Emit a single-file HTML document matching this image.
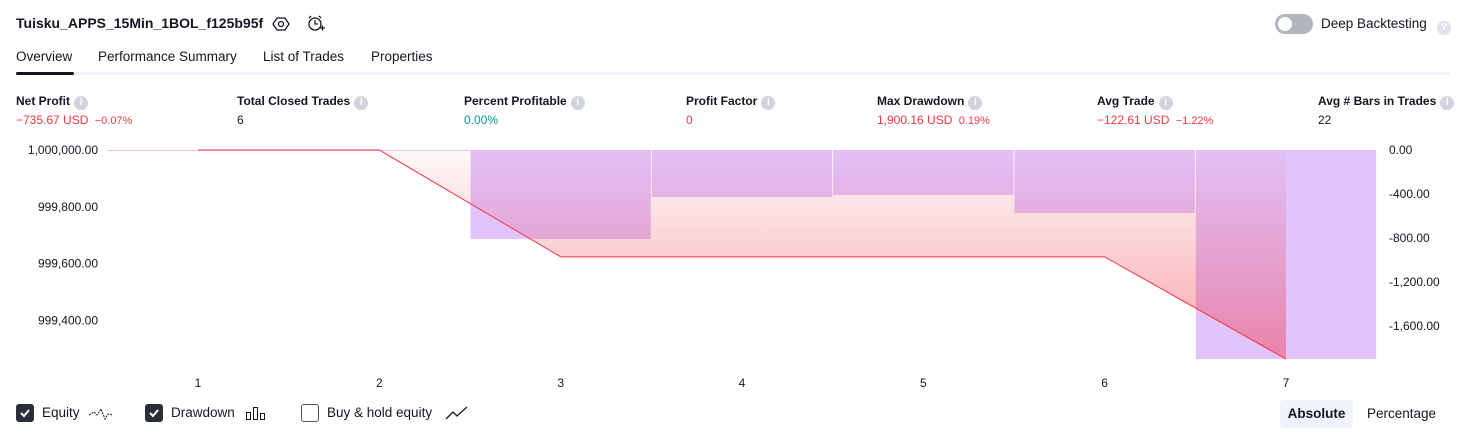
<!DOCTYPE html>
<html><head><meta charset="utf-8"><style>
body{margin:0;width:1466px;height:438px;background:#fff;font-family:"Liberation Sans",sans-serif;color:#131722;position:relative;overflow:hidden}
.a{position:absolute;white-space:nowrap}
.lbl{font-size:12px;font-weight:bold;top:94px}
.val{font-size:12px;top:113px}
.red{color:#f23645}.grn{color:#089981}
.i{display:inline-block;width:14px;height:14px;border-radius:50%;background:#d1d4dc;color:#fff;font-size:10px;text-align:center;line-height:14px;vertical-align:0px;margin-left:4px;font-weight:bold}
.tab{top:49px;font-size:13.5px}
.cb{position:absolute;top:404px;width:18px;height:18px;border-radius:3px;box-sizing:border-box}
</style></head><body>
<div class="a" style="left:16px;top:15px;font-size:14px;font-weight:bold">Tuisku_APPS_15Min_1BOL_f125b95f</div>
<svg class="a" style="left:272px;top:15px" width="18" height="18"><polygon points="5,3 13,3 17,9 13,15 5,15 1,9" fill="none" stroke="#131722" stroke-width="1.3"/><circle cx="9" cy="9" r="2.5" fill="none" stroke="#131722" stroke-width="1.3"/></svg>
<svg class="a" style="left:306px;top:14px" width="20" height="20"><circle cx="9" cy="10" r="6" fill="none" stroke="#131722" stroke-width="1.3"/><path d="M9 6v4h3M3 4l2-2M15 4l-2-2M14 14h5M16.5 11.5v5" stroke="#131722" stroke-width="1.3" fill="none"/></svg>
<div class="a" style="left:1275px;top:14px;width:38px;height:20px;border-radius:10px;background:#b2b5be"><div style="position:absolute;left:3px;top:3px;width:14px;height:14px;border-radius:50%;background:#fff"></div></div>
<div class="a" style="left:1321px;top:16px;font-size:13.5px">Deep Backtesting</div>
<div class="a" style="left:1433px;top:17px"><span class="i" style="background:#e0e3eb">?</span></div>
<div class="a tab" style="left:16px">Overview</div>
<div class="a tab" style="left:98px">Performance Summary</div>
<div class="a tab" style="left:263px">List of Trades</div>
<div class="a tab" style="left:371px">Properties</div>
<div class="a" style="left:16px;top:72px;width:1434px;height:3px;background:#f0f3fa"></div>
<div class="a" style="left:16px;top:72px;width:58px;height:3px;border-radius:2px;background:#131722"></div>

<div class="a lbl" style="left:16px">Net Profit<span class="i">i</span></div>
<div class="a val red" style="left:16px">−735.67 USD <span style="font-size:11px;margin-left:3px">−0.07%</span></div>
<div class="a lbl" style="left:237px">Total Closed Trades<span class="i">i</span></div>
<div class="a val" style="left:237px">6</div>
<div class="a lbl" style="left:464px">Percent Profitable<span class="i">i</span></div>
<div class="a val grn" style="left:464px">0.00%</div>
<div class="a lbl" style="left:686px">Profit Factor<span class="i">i</span></div>
<div class="a val red" style="left:686px">0</div>
<div class="a lbl" style="left:877px">Max Drawdown<span class="i">i</span></div>
<div class="a val red" style="left:877px">1,900.16 USD <span style="font-size:11px;margin-left:3px">0.19%</span></div>
<div class="a lbl" style="left:1097px">Avg Trade<span class="i">i</span></div>
<div class="a val red" style="left:1097px">−122.61 USD <span style="font-size:11px;margin-left:3px">−1.22%</span></div>
<div class="a lbl" style="left:1318px">Avg # Bars in Trades<span class="i">i</span></div>
<div class="a val" style="left:1318px">22</div>

<svg class="a" id="chart" style="left:0;top:0" width="1466" height="400"></svg>

<div class="cb" style="left:16px;background:#2a2e39"><svg width="18" height="18"><path d="M5 9l3 3 5-6" stroke="#fff" stroke-width="2" fill="none"/></svg></div>
<div class="a" style="left:42px;top:405px;font-size:13.5px">Equity</div>
<svg class="a" style="left:88px;top:404px" width="26" height="18"><path d="M1 11l5-3 3 3 4-6 4 10 3-5 5 1" stroke="#131722" fill="none" stroke-dasharray="2,1"/></svg>
<div class="cb" style="left:145px;background:#2a2e39"><svg width="18" height="18"><path d="M5 9l3 3 5-6" stroke="#fff" stroke-width="2" fill="none"/></svg></div>
<div class="a" style="left:171px;top:405px;font-size:13.5px">Drawdown</div>
<svg class="a" style="left:245px;top:404px" width="22" height="18"><rect x="1.5" y="8.5" width="4" height="7" fill="none" stroke="#131722"/><rect x="8.5" y="3.5" width="4" height="12" fill="none" stroke="#131722"/><rect x="15.5" y="9.5" width="4" height="6" fill="none" stroke="#131722"/></svg>
<div class="cb" style="left:301px;border:1.5px solid #50535e;background:#fff"></div>
<div class="a" style="left:327px;top:405px;font-size:13.5px">Buy &amp; hold equity</div>
<svg class="a" style="left:445px;top:404px" width="24" height="18"><path d="M1 15l7-7 4 4 10-9" stroke="#131722" fill="none" stroke-width="1.3"/></svg>
<div class="a" style="left:1280px;top:400px;width:73px;height:28px;border-radius:4px;background:#f0f3fa;font-size:13.5px;font-weight:bold;text-align:center;line-height:28px">Absolute</div>
<div class="a" style="left:1367px;top:400px;font-size:13.5px;line-height:28px">Percentage</div>

<script>
const trades=[1,2,3,4,5,6,7];
const equity=[1000000,1000000,999624,999624,999624,999624,999264.33];
const drawdown=[0,0,-809,-427,-409,-573,-1900.16];
const leftTicks=[1000000,999800,999600,999400];
const rightTicks=[0,-400,-800,-1200,-1600];
const NS='http://www.w3.org/2000/svg';
const svg=document.getElementById('chart');
const TOP=150,BOT=359;
const xOf=t=>198+(t-1)*181.33;
const yEq=v=>TOP+(1000000-v)*0.2842;
const yDd=v=>TOP-v*(BOT-TOP)/1900.16;
function mk(tag,attrs){const e=document.createElementNS(NS,tag);for(const k in attrs)e.setAttribute(k,attrs[k]);svg.appendChild(e);return e;}
const defs=mk('defs',{});
defs.innerHTML='<linearGradient id="g" gradientUnits="userSpaceOnUse" x1="0" y1="150" x2="0" y2="359"><stop offset="0" stop-color="#f23645" stop-opacity="0.03"/><stop offset="1" stop-color="#f23645" stop-opacity="0.45"/></linearGradient>';
const bw=181.33;
drawdown.forEach((d,i)=>{
 const cx=xOf(trades[i]);const y=yDd(d);
 const r=mk('rect',{x:cx-bw/2+0.5,y:TOP,width:bw-1,height:Math.max(1,y-TOP),fill:'#e1c4fc'});
 
 
});
let pts=trades.map((t,i)=>xOf(t)+','+yEq(equity[i])).join(' ');
const area=mk('polygon',{points:xOf(1)+','+TOP+' '+pts+' '+xOf(7)+','+TOP,fill:'url(#g)'});


const line=mk('polyline',{points:pts,fill:'none',stroke:'#f23645','stroke-width':1});


leftTicks.forEach(v=>{
 const t=mk('text',{x:98,y:yEq(v)+4,'text-anchor':'end','font-size':12,fill:'#131722','font-family':'Liberation Sans, sans-serif'});
 t.textContent=v.toLocaleString('en-US',{minimumFractionDigits:2});
 
 
});
rightTicks.forEach(v=>{
 const t=mk('text',{x:1389,y:yDd(v)+4,'font-size':12,fill:'#131722','font-family':'Liberation Sans, sans-serif'});
 t.textContent=v.toLocaleString('en-US',{minimumFractionDigits:2});
 
 
});
trades.forEach(tr=>{
 const t=mk('text',{x:xOf(tr),y:387,'text-anchor':'middle','font-size':12,fill:'#131722','font-family':'Liberation Sans, sans-serif'});
 t.textContent=tr;
 
 
});
</script>
</body></html>
